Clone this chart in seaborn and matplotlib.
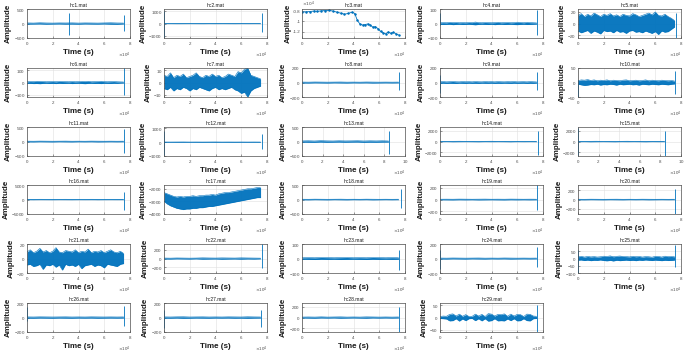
import numpy as np
import matplotlib
matplotlib.use("Agg")
import matplotlib.pyplot as plt
from matplotlib.ticker import ScalarFormatter, FuncFormatter
import seaborn as sns

# time grids, in units of 1e4 s
t31 = [0.0, 0.25, 0.5, 0.75, 1.0, 1.25, 1.5, 1.75, 2.0, 2.25, 2.5, 2.75, 3.0, 3.25, 3.5, 3.75,
       4.0, 4.25, 4.5, 4.75, 5.0, 5.25, 5.5, 5.75, 6.0, 6.25, 6.5, 6.75, 7.0, 7.25, 7.5]
t16 = [0.0, 0.5, 1.0, 1.5, 2.0, 2.5, 3.0, 3.5, 4.0, 4.5, 5.0, 5.5, 6.0, 6.5, 7.0, 7.5]
t_hc13 = [0.0, 0.6, 1.2, 1.8, 2.4, 3.0, 3.6, 4.2, 4.8, 5.4, 6.0, 6.6, 7.2, 7.8, 8.4]
t_hc15 = [0.0, 0.6, 1.2, 1.8, 2.4, 3.0, 3.6, 4.2, 4.8, 5.4, 6.0, 6.6, 7.2, 7.8, 8.4]

# hc3 is a slow drift (x 1e4 s, amplitude)
hc3_t = [0.0, 0.3, 0.6, 0.9, 1.2, 1.5, 1.8, 2.1, 2.4, 2.7, 3.0, 3.3, 3.6, 3.9, 4.1, 4.3,
         4.5, 4.7, 4.9, 5.1, 5.3, 5.5, 5.7, 5.9, 6.1, 6.3, 6.5, 6.7, 6.9, 7.1, 7.3, 7.5]
hc3_v = [-8200, -8150, -8100, -8000, -8050, -7950, -7900, -7850, -8000, -8200, -8400, -8600,
         -8450, -8200, -8500, -9800, -10500, -10700, -10600, -10500, -10700, -11100, -11000,
         -11400, -11900, -12200, -12400, -12000, -12300, -12100, -12400, -12600]

# envelopes (upper / lower) of the noisy records
hc1_up = [20, 15, 25, 18, 15, 20, 18, 22, 15, 20, 18, 15, 20, 25, 18, 15]
hc1_lo = [-20, -18, -15, -22, -18, -15, -20, -18, -22, -15, -18, -20, -15, -22, -25, -15]
hc2_up = [12, 10, 12, 14, 10, 12, 10, 12, 14, 10, 12, 10, 12, 10, 12, 10]
hc2_lo = [-12, -10, -14, -12, -10, -12, -14, -10, -12, -10, -12, -14, -10, -12, -10, -12]
hc4_up = [5, 6, 5, 8, 6, 7, 5, 6, 5, 7, 6, 10, 6, 5, 7, 6, 5, 6, 8, 5, 6, 7, 5, 6, 9, 7, 5, 8, 6, 5, 4]
hc4_lo = [-5, -7, -6, -5, -8, -6, -5, -7, -6, -5, -7, -9, -6, -5, -6, -7, -5, -8, -6, -5, -7, -6, -5, -7, -8, -6, -5, -7, -6, -5, -4]
hc5_up = [14, 17, 12, 16, 13, 18, 15, 12, 16, 14, 17, 13, 15, 12, 16, 14, 13, 17, 15, 12, 14, 16, 18, 15, 20, 14, 13, 16, 12, 9, 5]
hc5_lo = [-13, -16, -14, -12, -17, -13, -15, -18, -12, -14, -13, -16, -12, -15, -14, -17, -13, -12, -15, -14, -16, -13, -15, -17, -14, -19, -13, -15, -14, -10, -6]
hc6_up = [6, 8, 7, 10, 9, 8, 6, 7, 8, 6, 9, 8, 7, 6, 8, 6, 7, 9, 8, 10, 6, 7, 8, 10, 7, 6, 7, 8, 6, 5, 4]
hc6_lo = [-6, -7, -9, -8, -10, -7, -6, -8, -7, -9, -6, -8, -7, -6, -9, -7, -6, -8, -10, -7, -6, -8, -7, -9, -6, -7, -8, -6, -7, -5, -4]
hc7_up = [6, 5, 8, 4, 6, 5, 7, 4, 5, 6, 8, 5, 4, 6, 5, 7, 5, 6, 4, 5, 7, 6, 5, 9, 8, 11, 12, 6, 5, 4, 3]
hc7_lo = [-5, -6, -4, -7, -5, -6, -4, -5, -7, -5, -6, -4, -5, -6, -7, -5, -4, -6, -5, -6, -5, -4, -6, -7, -9, -8, -12, -7, -5, -4, -3]
hc8_up = [6, 5, 7, 6, 5, 6, 7, 5, 6, 5, 7, 6, 5, 6, 5, 6]
hc8_lo = [-6, -7, -5, -6, -7, -5, -6, -7, -5, -6, -5, -7, -6, -5, -6, -5]
hc9_up = [10, 12, 9, 11, 14, 10, 9, 12, 10, 11, 9, 13, 10, 9, 12, 10, 11, 9, 12, 10, 9, 11, 10, 12, 9, 10, 11, 9, 12, 10, 8]
hc9_lo = [-10, -9, -12, -10, -11, -13, -9, -10, -12, -9, -11, -10, -12, -9, -10, -11, -9, -12, -10, -11, -9, -10, -12, -9, -11, -10, -9, -12, -10, -11, -8]
hc10_up = [6, 9, 8, 10, 7, 9, 6, 8, 7, 9, 6, 8, 7, 6, 8, 9, 6, 7, 8, 6, 7, 9, 6, 8, 7, 6, 8, 7, 6, 7, 5]
hc10_lo = [-6, -8, -10, -9, -7, -8, -6, -9, -7, -8, -6, -7, -9, -6, -8, -7, -6, -8, -7, -9, -6, -7, -8, -6, -7, -8, -6, -7, -8, -6, -5]
hc11_up = [12, 10, 14, 12, 10, 12, 14, 10, 12, 10, 14, 12, 10, 12, 10, 12]
hc11_lo = [-12, -14, -10, -12, -14, -10, -12, -14, -10, -12, -10, -14, -12, -10, -12, -10]
hc12_up = [15, 12, 15, 18, 12, 15, 12, 15, 18, 12, 15, 12, 15, 12, 15, 12]
hc12_lo = [-15, -12, -18, -15, -12, -15, -18, -12, -15, -12, -15, -18, -12, -15, -12, -15]
hc13_up = [20, 25, 18, 28, 22, 18, 25, 20, 22, 26, 18, 24, 20, 25, 18]
hc13_lo = [-20, -24, -26, -18, -25, -22, -18, -24, -20, -18, -26, -22, -24, -20, -18]
hc14_up = [40, 30, 40, 50, 30, 40, 30, 40, 50, 30, 40, 30, 40, 30, 40, 30]
hc14_lo = [-40, -30, -50, -40, -30, -40, -50, -30, -40, -30, -40, -50, -30, -40, -30, -40]
hc15_up = [40, 30, 40, 50, 30, 40, 30, 40, 50, 30, 40, 30, 40, 30, 40]
hc15_lo = [-40, -30, -50, -40, -30, -40, -50, -30, -40, -30, -40, -50, -30, -40, -30]
hc16_up = [70, 60, 80, 70, 60, 70, 80, 60, 70, 60, 80, 70, 60, 70, 60, 70]
hc16_lo = [-70, -80, -60, -70, -80, -60, -70, -80, -60, -70, -60, -80, -70, -60, -70, -60]
hc17_up = [-2300, -2400, -2500, -2600, -2650, -2600, -2650, -2600, -2600, -2550, -2600, -2550, -2550, -2500, -2500, -2450,
           -2500, -2400, -2350, -2300, -2300, -2250, -2200, -2150, -2100, -2050, -2000, -2000, -1950, -1900, -1900]
hc17_lo = [-3000, -3200, -3350, -3450, -3550, -3600, -3650, -3600, -3600, -3550, -3550, -3500, -3500, -3450, -3400, -3400,
           -3350, -3300, -3250, -3200, -3150, -3100, -3050, -3000, -2950, -2900, -2850, -2800, -2750, -2700, -2700]
hc18_up = [10, 8, 12, 10, 8, 10, 12, 8, 10, 8, 12, 10, 8, 10, 8, 10]
hc18_lo = [-10, -12, -8, -10, -12, -8, -10, -12, -8, -10, -8, -12, -10, -8, -10, -8]
hc19_up = [5, 6, 5, 7, 6, 5, 6, 7, 5, 6, 5, 7, 6, 5, 6, 5]
hc19_lo = [-5, -6, -7, -5, -6, -5, -7, -6, -5, -6, -7, -5, -6, -5, -6, -5]
hc20_up = [6, 5, 7, 6, 5, 6, 7, 5, 6, 5, 7, 6, 5, 6, 5, 6]
hc20_lo = [-6, -7, -5, -6, -7, -5, -6, -7, -5, -6, -5, -7, -6, -5, -6, -5]
hc21_up = [9, 12, 8, 10, 14, 9, 11, 8, 10, 15, 9, 8, 11, 10, 9, 12, 8, 10, 9, 13, 8, 10, 9, 11, 8, 10, 12, 9, 8, 10, 7]
hc21_lo = [-9, -8, -11, -10, -8, -15, -9, -10, -8, -12, -9, -16, -8, -10, -9, -11, -8, -14, -10, -9, -8, -11, -9, -10, -13, -8, -9, -10, -11, -8, -7]
hc22_up = [10, 8, 12, 10, 8, 10, 15, 12, 10, 14, 12, 10, 15, 12, 10, 8]
hc22_lo = [-10, -12, -8, -10, -12, -8, -14, -12, -10, -15, -12, -10, -14, -10, -12, -8]
hc23_up = [5, 6, 5, 7, 6, 5, 6, 7, 5, 6, 5, 7, 6, 5, 6, 5]
hc23_lo = [-5, -6, -7, -5, -6, -5, -7, -6, -5, -6, -7, -5, -6, -5, -6, -5]
hc24_up = [6, 5, 7, 6, 5, 6, 7, 5, 6, 5, 7, 6, 5, 6, 5, 6]
hc24_lo = [-6, -7, -5, -6, -7, -5, -6, -7, -5, -6, -5, -7, -6, -5, -6, -5]
hc25_up = [12, 15, 10, 14, 11, 13, 10, 12, 16, 14, 18, 12, 15, 17, 14, 13, 11, 15, 12, 14, 10, 13, 12, 9, 15, 14, 10, 16, 13, 14, 12]
hc25_lo = [-12, -10, -14, -11, -15, -12, -13, -10, -14, -16, -13, -17, -12, -15, -13, -11, -14, -12, -15, -11, -13, -10, -12, -14, -11, -13, -15, -12, -14, -13, -11]
hc26_up = [8, 7, 9, 8, 7, 8, 9, 7, 8, 7, 9, 8, 7, 8, 7, 8]
hc26_lo = [-8, -9, -7, -8, -9, -7, -8, -9, -7, -8, -7, -9, -8, -7, -8, -7]
hc27_up = [8, 7, 9, 10, 7, 8, 9, 7, 8, 7, 9, 8, 7, 10, 8, 7]
hc27_lo = [-8, -9, -7, -10, -9, -7, -8, -9, -7, -8, -7, -9, -8, -10, -8, -7]
hc28_up = [8, 10, 8, 12, 8, 10, 12, 8, 10, 8, 12, 10, 8, 10, 8, 10]
hc28_lo = [-8, -10, -12, -8, -10, -8, -12, -10, -8, -10, -12, -8, -10, -8, -10, -8]
hc29_up = [4, 6, 5, 13, 15, 6, 14, 5, 12, 4, 5, 14, 6, 13, 4, 16, 14, 6, 13, 12, 15, 5, 14, 6, 13, 12, 4, 14, 13, 6, 5]
hc29_lo = [-4, -5, -6, -14, -13, -5, -15, -6, -13, -5, -4, -13, -5, -14, -5, -15, -13, -5, -14, -13, -14, -6, -13, -5, -14, -13, -5, -13, -14, -5, -4]

# spikes: time (x 1e4 s), top, bottom
hc1_spk = ([3.3, 7.5], [350, 300], [-400, -250])
hc2_spk = ([0.02, 7.6], [1000, 900], [-1100, -700])
hc4_spk = ([0.02, 7.5], [70, 90], [-10, -80])
hc5_spk = ([7.6], [18], [-25])
hc6_spk = ([7.5], [120], [-100])
hc8_spk = ([7.5], [150], [-100])
hc9_spk = ([0.02, 7.5], [100, 150], [-150, -100])
hc10_spk = ([0.02, 7.5], [10, 40], [-50, -40])
hc11_spk = ([7.5], [420], [-400])
hc12_spk = ([0.02, 7.6], [800, 600], [-900, -500])
hc13_spk = ([8.4], [350], [-420])
hc14_spk = ([7.6], [1900], [-2600])
hc15_spk = ([0.02, 8.4], [2500, 2000], [-2500, -2700])
hc16_spk = ([7.5], [2500], [-3500])
hc18_spk = ([7.7], [350], [-300])
hc19_spk = ([7.55], [250], [-180])
hc20_spk = ([7.5], [230], [-320])
hc22_spk = ([7.6], [330], [-220])
hc23_spk = ([7.5], [60], [-80])
hc24_spk = ([0.02, 7.5], [120, 160], [-150, -120])
hc25_spk = ([0.02, 7.55], [60, 90], [-100, -60])
hc26_spk = ([0.02, 7.5], [150, 160], [-50, -120])
hc27_spk = ([0.02, 7.5], [100, 100], [-150, -130])
hc28_spk = ([7.5], [200], [-270])
hc29_spk = ([7.5], [50], [-60])
no_spk = ([], [], [])

# axis limits and ticks
lim_500 = ((-500, 500), [-500, 0, 500])
lim_200 = ((-200, 200), [-200, 0, 200])
lim_100 = ((-100, 100), [-100, 0, 100])

panels = [
    ("hc1.mat", t16, hc1_up, hc1_lo, hc1_spk, 8, lim_500),
    ("hc2.mat", t16, hc2_up, hc2_lo, hc2_spk, 8, ((-1200, 1200), [-1000, 0, 1000])),
    ("hc3.mat", None, None, None, no_spk, 8, ((-13200, -7600), [-12000, -10000, -8000])),
    ("hc4.mat", t31, hc4_up, hc4_lo, hc4_spk, 8, lim_100),
    ("hc5.mat", t31, hc5_up, hc5_lo, hc5_spk, 8, ((-25, 25), [-20, 0, 20])),
    ("hc6.mat", t31, hc6_up, hc6_lo, hc6_spk, 8, ((-120, 120), [-100, 0, 100])),
    ("hc7.mat", t31, hc7_up, hc7_lo, no_spk, 8, ((-12, 12), [-10, 0, 10])),
    ("hc8.mat", t16, hc8_up, hc8_lo, hc8_spk, 8, lim_200),
    ("hc9.mat", t31, hc9_up, hc9_lo, hc9_spk, 8, lim_200),
    ("hc10.mat", t31, hc10_up, hc10_lo, hc10_spk, 8, ((-50, 50), [-50, 0, 50])),
    ("hc11.mat", t16, hc11_up, hc11_lo, hc11_spk, 8, lim_500),
    ("hc12.mat", t16, hc12_up, hc12_lo, hc12_spk, 8, ((-1000, 1100), [-1000, 0, 1000])),
    ("hc13.mat", t_hc13, hc13_up, hc13_lo, hc13_spk, 10, lim_500),
    ("hc14.mat", t16, hc14_up, hc14_lo, hc14_spk, 8, ((-2700, 2700), [-2000, 0, 2000])),
    ("hc15.mat", t_hc15, hc15_up, hc15_lo, hc15_spk, 10, ((-2700, 2700), [-2000, 0, 2000])),
    ("hc16.mat", t16, hc16_up, hc16_lo, hc16_spk, 8, ((-5000, 5000), [-5000, 0, 5000])),
    ("hc17.mat", t31, hc17_up, hc17_lo, no_spk, 8, ((-4000, -1700), [-4000, -3000, -2000])),
    ("hc18.mat", t16, hc18_up, hc18_lo, hc18_spk, 8, lim_500),
    ("hc19.mat", t16, hc19_up, hc19_lo, hc19_spk, 8, ((-250, 250), [-200, 0, 200])),
    ("hc20.mat", t16, hc20_up, hc20_lo, hc20_spk, 8, ((-320, 320), [-200, 0, 200])),
    ("hc21.mat", t31, hc21_up, hc21_lo, no_spk, 8, ((-20, 20), [-20, 0, 20])),
    ("hc22.mat", t16, hc22_up, hc22_lo, hc22_spk, 8, ((-330, 330), [-200, 0, 200])),
    ("hc23.mat", t16, hc23_up, hc23_lo, hc23_spk, 8, lim_100),
    ("hc24.mat", t16, hc24_up, hc24_lo, hc24_spk, 8, lim_200),
    ("hc25.mat", t31, hc25_up, hc25_lo, hc25_spk, 8, ((-100, 100), [-100, -50, 0, 50])),
    ("hc26.mat", t16, hc26_up, hc26_lo, hc26_spk, 8, lim_200),
    ("hc27.mat", t16, hc27_up, hc27_lo, hc27_spk, 8, lim_200),
    ("hc28.mat", t16, hc28_up, hc28_lo, hc28_spk, 8, ((-270, 270), [-200, 0, 200])),
    ("hc29.mat", t31, hc29_up, hc29_lo, hc29_spk, 8, ((-60, 60), [-50, 0, 50])),
]

sns.set_theme(style="whitegrid")
plt.rcParams['font.family'] = ['Liberation Sans', 'DejaVu Sans']
plt.rcParams['axes.formatter.use_mathtext'] = True

blue = '#0072BD'
W, H = 685, 354
col_left = [27, 164, 302, 440, 578]
row_top = [9, 68, 127, 185, 244, 303]
ax_w, ax_h = 103, 29

fig = plt.figure(figsize=(6.85, 3.54), dpi=100)
fig.patch.set_facecolor('white')

for i, (name, t, up, lo, spk, xmax, (ylim, yticks)) in enumerate(panels):
    r, c = divmod(i, 5)
    ax = fig.add_axes([col_left[c] / W, 1 - (row_top[r] + ax_h) / H, ax_w / W, ax_h / H])

    if name == "hc3.mat":
        sns.lineplot(x=np.array(hc3_t) * 1e4, y=hc3_v, ax=ax, color=blue, lw=0.6,
                     marker='.', markersize=2, mec=blue)
    else:
        x = np.array(t) * 1e4
        ax.fill_between(x, lo, up, color=blue, lw=0, alpha=0.95)
        sns.lineplot(x=x, y=up, ax=ax, color=blue, lw=0.4)
        sns.lineplot(x=x, y=lo, ax=ax, color=blue, lw=0.4)
    st, shi, slo = spk
    if st:
        ax.vlines(np.array(st) * 1e4, slo, shi, color=blue, lw=0.6)

    ax.set_xlim(0, xmax * 1e4)
    ax.set_xticks(np.arange(0, xmax + 1, 2) * 1e4)
    ax.set_ylim(*ylim)
    ax.set_yticks(yticks)

    # x axis always in units of 1e4, shown as "x10^4" at the right
    fmt = ScalarFormatter(useMathText=True)
    fmt.set_powerlimits((4, 4))
    ax.xaxis.set_major_formatter(fmt)
    ax.xaxis.get_offset_text().set_fontsize(3.2)
    ax.xaxis.get_offset_text().set_color('0.3')
    if name == "hc3.mat":
        ax.yaxis.set_major_formatter(FuncFormatter(lambda v, _: f'{v / 1e4:g}'))
        ax.text(0.0, 1.01, r'$\times10^4$', transform=ax.transAxes, fontsize=3.2,
                color='0.3', ha='left', va='bottom')

    ax.tick_params(labelsize=3.2, colors='0.3', direction='in', length=1.5, width=0.4, pad=1.2)
    ax.tick_params(axis='both', which='both', bottom=True, left=True)
    ax.grid(True, color='0.88', lw=0.4)
    for s in ax.spines.values():
        s.set_visible(True)
        s.set_color('0.3')
        s.set_linewidth(0.5)
    ax.set_facecolor('white')

    ax.set_title(name, fontsize=3.6, pad=1.5, color='0.1')
    ax.set_xlabel('Time (s)', fontsize=5.8, fontweight='bold', labelpad=1.5, color='0.1')
    ax.set_ylabel('Amplitude', fontsize=5.8, fontweight='bold', labelpad=1.0, color='0.1')

fig.savefig('out.png', dpi=100, facecolor='white')
